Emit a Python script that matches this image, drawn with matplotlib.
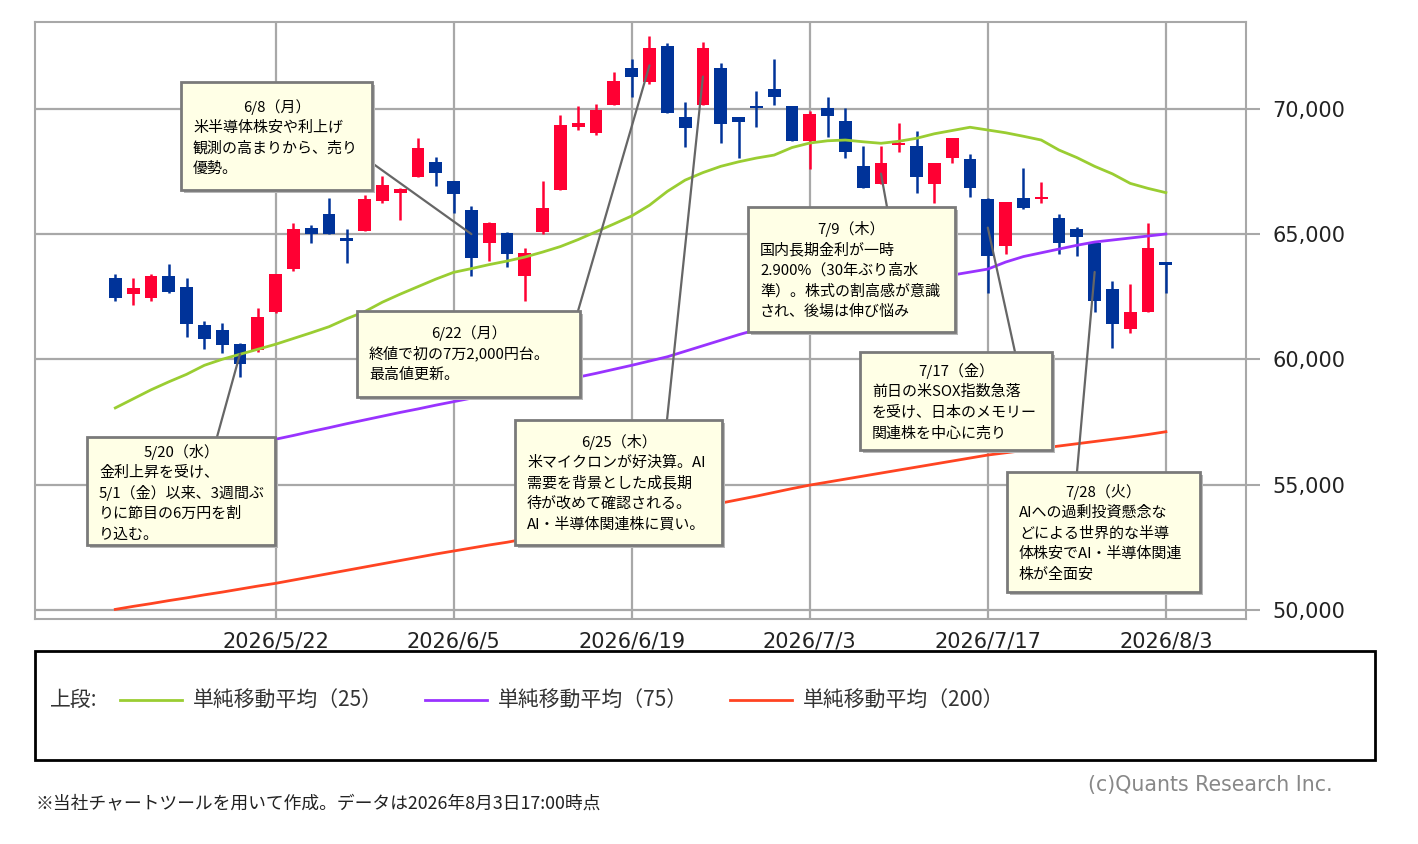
import numpy as np
import pandas as pd
import matplotlib
matplotlib.use('Agg')
import matplotlib.pyplot as plt
from matplotlib.patches import Rectangle
from matplotlib.ticker import FuncFormatter

plt.rcParams['font.family'] = ['DejaVu Sans']
JP = ['Noto Sans CJK JP', 'DejaVu Sans']

# trading days (7/20 = 海の日 holiday)
dates = pd.bdate_range('2026-05-11', '2026-08-03')
dates = dates[dates != pd.Timestamp('2026-07-20')]

opens = [63230, 62610, 62440, 63330, 62900, 61370, 61170, 60600, 60370, 61880,
         63600, 65250, 65790, 64830, 65130, 66330, 66650, 67260, 67890, 67130,
         65960, 64630, 65030, 63340, 65090, 66760, 69280, 69040, 70150, 71640,
         71050, 72500, 69680, 70150, 71640, 69680, 70110, 70770, 70110, 68710,
         70020, 69520, 67730, 67000, 68540, 68510, 67000, 68020, 67980, 66390,
         64530, 66450, 66400, 65630, 65200, 64630, 62790, 61210, 61900, 63900]
highs = [63400, 63230, 63400, 63800, 63230, 61530, 61440, 60660, 62060, 63420,
         65450, 65360, 66450, 65190, 66560, 67320, 66850, 68840, 68090, 67130,
         66130, 65490, 65090, 64430, 67130, 69750, 70110, 70190, 71480, 71970,
         72910, 72630, 70280, 72650, 71810, 69680, 70710, 71980, 70110, 69910,
         70460, 70020, 68510, 68510, 69420, 69120, 67820, 68840, 68180, 66430,
         66290, 67650, 67090, 65790, 65290, 64630, 63140, 62990, 65430, 63900]
lows = [62330, 62170, 62340, 62650, 60900, 60400, 60240, 59310, 60300, 61840,
        63520, 64630, 64990, 63860, 65130, 66240, 65560, 67260, 66920, 65830,
        63340, 63940, 63670, 62340, 65000, 66760, 69150, 68950, 70150, 70480,
        71000, 69820, 68460, 70150, 68620, 68020, 69280, 70150, 68710, 67580,
        68860, 68020, 66850, 67000, 68280, 66650, 66230, 67820, 66490, 62660,
        64200, 65990, 66250, 64200, 64120, 61900, 60460, 61060, 61900, 62660]
closes = [62440, 62830, 63330, 62670, 61410, 60810, 60570, 59810, 61700, 63400,
          65190, 65000, 65000, 64720, 66390, 66960, 66780, 68420, 67450, 66590,
          64030, 65450, 64200, 64250, 66030, 69350, 69420, 69950, 71120, 71250,
          72410, 69820, 69220, 72410, 69380, 69480, 70040, 70480, 68710, 69780,
          69720, 68280, 66850, 67820, 68620, 67290, 67820, 68840, 66820, 64120,
          66290, 66050, 66470, 64630, 64890, 62340, 61410, 61880, 64430, 63760]

ma25 = [58060, 58420, 58780, 59100, 59400, 59760, 60000, 60200, 60400, 60600,
        60830, 61060, 61300, 61620, 61900, 62280, 62600, 62900, 63200, 63470,
        63620, 63780, 63920, 64080, 64280, 64500, 64780, 65090, 65400, 65720,
        66150, 66700, 67150, 67450, 67700, 67880, 68030, 68150, 68450, 68630,
        68720, 68750, 68680, 68620, 68700, 68820, 69000, 69130, 69260, 69150,
        69040, 68900, 68750, 68350, 68050, 67700, 67400, 67020, 66820, 66650]
ma75 = [55460, 55610, 55760, 55910, 56060, 56210, 56360, 56510, 56660, 56810,
        56960, 57120, 57270, 57430, 57580, 57730, 57880, 58020, 58170, 58310,
        58450, 58590, 58730, 58870, 59010, 59150, 59290, 59440, 59600, 59760,
        59930, 60100, 60320, 60540, 60760, 60980, 61180, 61380, 61580, 61780,
        61980, 62180, 62380, 62580, 62780, 62980, 63170, 63360, 63480, 63600,
        63880, 64100, 64250, 64400, 64550, 64680, 64760, 64840, 64920, 65000]
ma200 = [50020, 50140, 50250, 50370, 50480, 50600, 50710, 50830, 50950, 51060,
         51190, 51320, 51450, 51580, 51710, 51840, 51970, 52100, 52230, 52350,
         52470, 52590, 52700, 52830, 52960, 53090, 53220, 53350, 53480, 53610,
         53740, 53870, 54000, 54130, 54260, 54400, 54540, 54690, 54840, 54980,
         55100, 55220, 55340, 55460, 55580, 55700, 55820, 55940, 56060, 56180,
         56270, 56360, 56450, 56540, 56630, 56720, 56810, 56900, 57000, 57110]

tick_dates = ['2026-05-22', '2026-06-05', '2026-06-19', '2026-07-03', '2026-07-17', '2026-08-03']
y_ticks = [50000, 55000, 60000, 65000, 70000]

ma_labels = ['単純移動平均（25）', '単純移動平均（75）', '単純移動平均（200）']
ma_colors = ['#9acd32', '#9933ff', '#ff4422']

notes = [
    ('2026-05-20', '5/20（水）', ['金利上昇を受け、', '5/1（金）以来、3週間ぶ', 'りに節目の6万円を割', 'り込む。']),
    ('2026-06-08', '6/8（月）', ['米半導体株安や利上げ', '観測の高まりから、売り', '優勢。']),
    ('2026-06-22', '6/22（月）', ['終値で初の7万2,000円台。', '最高値更新。']),
    ('2026-06-25', '6/25（木）', ['米マイクロンが好決算。AI', '需要を背景とした成長期', '待が改めて確認される。', 'AI・半導体関連株に買い。']),
    ('2026-07-09', '7/9（木）', ['国内長期金利が一時', '2.900%（30年ぶり高水', '準）。株式の割高感が意識', 'され、後場は伸び悩み']),
    ('2026-07-17', '7/17（金）', ['前日の米SOX指数急落', 'を受け、日本のメモリー', '関連株を中心に売り']),
    ('2026-07-28', '7/28（火）', ['AIへの過剰投資懸念な', 'どによる世界的な半導', '体株安でAI・半導体関連', '株が全面安']),
]
# box (x0, y0, x1, y1) in pixels, title y, leader-line start
note_layout = [
    ((87, 437, 275, 545), 452, (217, 437)),
    ((181, 82, 372, 190), 107, (372, 163)),
    ((357, 311, 580, 397), 333, (578, 311)),
    ((515, 420, 722, 545), 442, (667, 420)),
    ((748, 207, 955, 332), 229, (887, 207)),
    ((860, 352, 1052, 450), 371, (1015, 352)),
    ((1007, 472, 1200, 592), 492, (1077, 472)),
]

W, H = 1418, 844


def px(x, y):
    return (x / W, 1 - y / H)


fig = plt.figure(figsize=(W / 100, H / 100), dpi=100)
ax = fig.add_axes([35 / W, 1 - 619 / H, 1211 / W, 597 / H])

x = np.arange(len(dates))
o = np.array(opens)
c = np.array(closes)
col = np.where(c >= o, '#ff0033', '#003399')

ax.vlines(x, lows, highs, color=col, lw=1.8, zorder=3)
diff = np.abs(c - o)
body = np.maximum(diff, 70)
ax.bar(x, body, bottom=np.minimum(o, c) - (body - diff) / 2, width=0.72,
       color=col, linewidth=0, zorder=4)

for ma, color in zip([ma25, ma75, ma200], ma_colors):
    ax.plot(x, ma, color=color, lw=2.0, zorder=5)

ax.set_xlim(-4.51, 63.5)
ax.set_ylim(49637, 73460)

xt = [dates.get_loc(pd.Timestamp(d)) for d in tick_dates]
ax.set_xticks(xt)
ax.set_xticklabels([f'{dates[i].year}/{dates[i].month}/{dates[i].day}' for i in xt])
ax.set_yticks(y_ticks)
ax.yaxis.set_major_formatter(FuncFormatter(lambda v, p: f'{v:,.0f}'))
ax.yaxis.tick_right()
ax.tick_params(axis='y', length=10, width=1.5, color='#a8a8a8', pad=9,
               labelsize=15, labelcolor='#222222')
ax.tick_params(axis='x', length=0, pad=9, labelsize=15, labelcolor='#222222')
ax.grid(True, color='#a8a8a8', lw=1.6)
ax.set_axisbelow(True)
for s in ax.spines.values():
    s.set_color('#a8a8a8')
    s.set_linewidth(1.5)

# annotations
for (d, title, lines), (box, ty, start) in zip(notes, note_layout):
    i = dates.get_loc(pd.Timestamp(d))
    mid = (opens[i] + closes[i]) / 2
    ax.annotate('', xy=(i, mid), xycoords='data', xytext=px(*start),
                textcoords='figure fraction', annotation_clip=False,
                arrowprops=dict(arrowstyle='-', color='#666666', lw=1.6,
                                shrinkA=0, shrinkB=0), zorder=6)
    x0, y0, x1, y1 = box
    fig.patches.append(Rectangle(px(x0 + 3, y1 + 3), (x1 - x0) / W, (y1 - y0) / H,
                                 transform=fig.transFigure, facecolor='#b8b8b8',
                                 edgecolor='none', zorder=10))
    fig.patches.append(Rectangle(px(x0, y1), (x1 - x0) / W, (y1 - y0) / H,
                                 transform=fig.transFigure, facecolor='#ffffe6',
                                 edgecolor='#7a7a7a', lw=2, zorder=11))
    fig.text(*px((x0 + x1) / 2, ty), title, ha='center', va='center',
             fontsize=10.8, family=JP, color='black', zorder=12)
    for k, line in enumerate(lines):
        fig.text(*px(x0 + 12, ty + 20.7 * (k + 1)), line, ha='left', va='center',
                 fontsize=10.8, family=JP, color='black', zorder=12)

# legend panel
fig.patches.append(Rectangle(px(35, 760), 1340 / W, 109 / H, transform=fig.transFigure,
                             facecolor='none', edgecolor='black', lw=2))
fig.text(*px(50, 700), '上段:', ha='left', va='center', fontsize=15, family=JP, color='#333333')
for k, (lab, color) in enumerate(zip(ma_labels, ma_colors)):
    lx = 120 + k * 305
    fig.lines.append(plt.Line2D([lx / W, (lx + 62) / W], [1 - 700 / H] * 2,
                                transform=fig.transFigure, color=color, lw=2))
    fig.text(*px(lx + 73, 700), lab, ha='left', va='center', fontsize=15,
             family=JP, color='#333333')

fig.text(*px(1088, 785), '(c)Quants Research Inc.', ha='left', va='center',
         fontsize=14.8, color='#888888')
fig.text(*px(35, 803), '※当社チャートツールを用いて作成。データは2026年8月3日17:00時点',
         ha='left', va='center', fontsize=12.8, family=JP, color='#222222')

fig.savefig('out.png', dpi=100, facecolor='white')
